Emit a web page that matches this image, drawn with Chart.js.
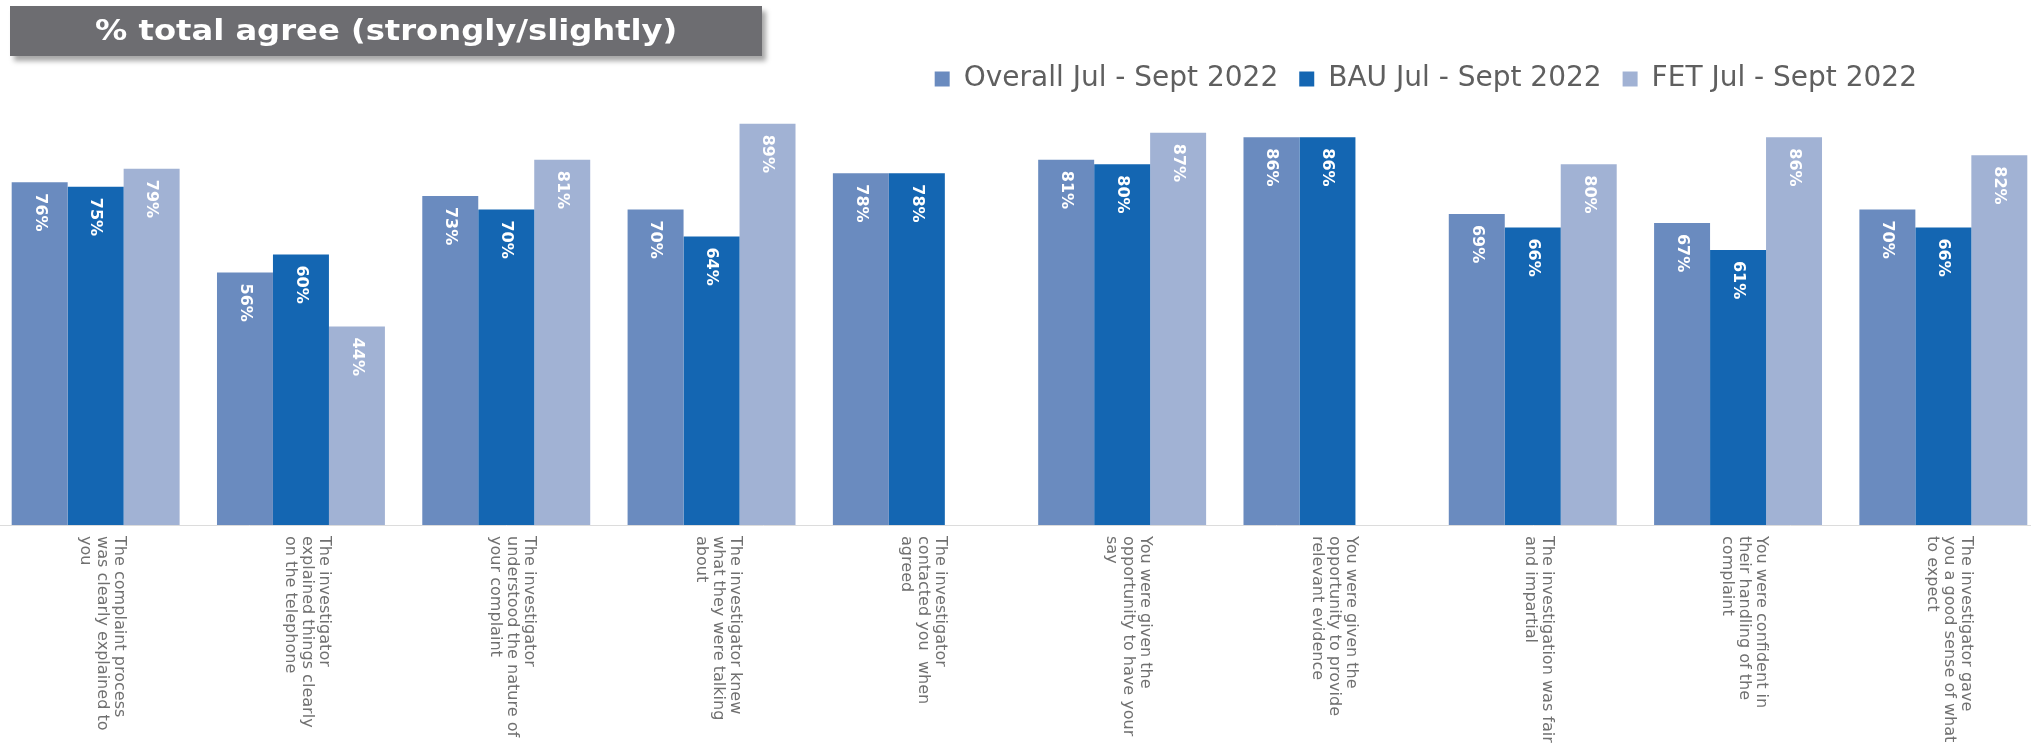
<!DOCTYPE html>
<html>
<head>
<meta charset="utf-8">
<script src="https://cdn.jsdelivr.net/npm/chart.js@4.4.1/dist/chart.umd.min.js"></script>
<style>
  body { margin: 0; background: #fff; overflow: hidden; width: 2031px; height: 747px; position: relative; }
  #title {
    position: absolute; left: 10px; top: 6px; width: 752px; height: 50px;
    background: #6d6d71; box-shadow: 4px 5px 5px rgba(0,0,0,0.35);
    color: #fff; font: bold 28px "DejaVu Sans", Verdana, sans-serif;
    text-align: center; line-height: 50px; z-index: 2;
  }
  #title span { display: inline-block; transform: scaleX(1.15); }
  #wrap { position: absolute; left: -7px; top: 0; width: 2053px; height: 747px; }
</style>
</head>
<body>
<div id="title"><span>% total agree (strongly/slightly)</span></div>
<div id="wrap"><canvas id="agreeChart"></canvas></div>
<script>
// categories (survey statements)
var statements = [
  ['The complaint process', 'was clearly explained to', 'you'],
  ['The investigator', 'explained things clearly', 'on the telephone'],
  ['The investigator', 'understood the nature of', 'your complaint'],
  ['The investigator knew', 'what they were talking', 'about'],
  ['The investigator', 'contacted you  when', 'agreed'],
  ['You were given the', 'opportunity to have your', 'say'],
  ['You were given the', 'opportunity to provide', 'relevant evidence'],
  ['The investigation was fair', 'and impartial'],
  ['You were confident in', 'their handling of the', 'complaint'],
  ['The investigator gave', 'you a good sense of what', 'to expect']
];

var seriesNames = ['Overall Jul - Sept 2022', 'BAU Jul - Sept 2022', 'FET Jul - Sept 2022'];
var overall = [76, 56, 73, 70, 78, 81, 86, 69, 67, 70];
var bau     = [75, 60, 70, 64, 78, 80, 86, 66, 61, 66];
var fet     = [79, 44, 81, 89, null, 87, null, 80, 86, 82];

// draws the % value inside the top of each bar, rotated to read downwards
var barValues = {
  id: 'barValues',
  afterDatasetsDraw: function (chart) {
    var ctx = chart.ctx;
    ctx.save();
    ctx.fillStyle = '#ffffff';
    ctx.font = 'bold 16px "DejaVu Sans", Verdana, sans-serif';
    ctx.textAlign = 'left';
    ctx.textBaseline = 'middle';
    chart.data.datasets.forEach(function (ds, i) {
      chart.getDatasetMeta(i).data.forEach(function (bar, j) {
        if (ds.data[j] == null) return;
        ctx.save();
        ctx.translate(bar.x, bar.y + 11);
        ctx.rotate(Math.PI / 2);
        ctx.fillText(ds.data[j] + '%', 0, 0);
        ctx.restore();
      });
    });
    ctx.restore();
  }
};

// x labels drawn rotated clockwise (Chart.js only rotates the other way)
var sideLabels = {
  id: 'sideLabels',
  afterDraw: function (chart) {
    var ctx = chart.ctx;
    var xs = chart.scales.x;
    var lh = 17;
    ctx.save();
    ctx.fillStyle = '#707070';
    ctx.font = '15px "DejaVu Sans", Verdana, sans-serif';
    ctx.textAlign = 'left';
    ctx.textBaseline = 'middle';
    chart.data.labels.forEach(function (lines, i) {
      var cx = xs.getPixelForValue(i);
      lines.forEach(function (line, k) {
        ctx.save();
        ctx.translate(cx + ((lines.length - 1) / 2 - k) * lh + 6, xs.top + 11);
        ctx.rotate(Math.PI / 2);
        ctx.scale(1.07, 1); // the source text is a little long and narrow
        ctx.fillText(line, 0, 0);
        ctx.restore();
      });
    });
    ctx.restore();
  }
};

// pull the legend in from the right edge
var legendInset = {
  id: 'legendInset',
  afterLayout: function (chart) {
    chart.legend.right = chart.width - 108;
  }
};

var ctx = document.getElementById('agreeChart').getContext('2d');
var chart = new Chart(ctx, {
  type: 'bar',
  data: {
    labels: statements,
    datasets: [
      { label: seriesNames[0], data: overall, backgroundColor: '#6a8bbf' },
      { label: seriesNames[1], data: bau, backgroundColor: '#1466b2' },
      { label: seriesNames[2], data: fet, backgroundColor: '#a1b2d4' }
    ]
  },
  options: {
    responsive: true,
    maintainAspectRatio: false,
    animation: false,
    layout: { padding: { top: 44, left: 0, right: 0, bottom: 0 } },
    datasets: {
      bar: { categoryPercentage: 0.818, barPercentage: 1.0 }
    },
    scales: {
      x: {
        grid: { display: false },
        border: { display: true, color: '#dcdcdc' },
        ticks: { display: false },
        afterFit: function (scale) { scale.height = 222; }
      },
      y: {
        display: false,
        min: 0,
        max: 93.6
      }
    },
    plugins: {
      legend: {
        position: 'top',
        align: 'end',
        labels: {
          boxWidth: 15,
          boxHeight: 15,
          padding: 21,
          color: '#5f5f5f',
          font: { family: '"DejaVu Sans", Verdana, sans-serif', size: 28 }
        }
      },
      tooltip: { enabled: false }
    }
  },
  plugins: [barValues, sideLabels, legendInset]
});
</script>
</body>
</html>
